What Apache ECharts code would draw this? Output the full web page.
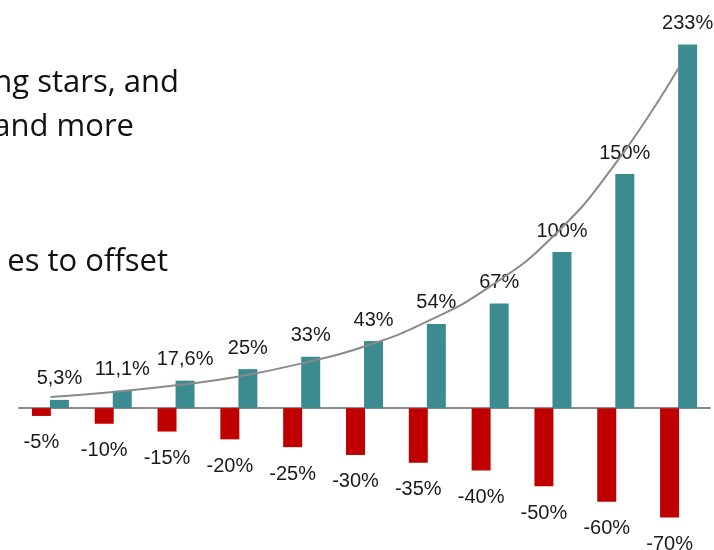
<!DOCTYPE html>
<html>
<head>
<meta charset="utf-8">
<style>
  html, body { margin: 0; padding: 0; background: #ffffff; }
  #chart { width: 714px; height: 550px; }
</style>
<script src="https://cdn.jsdelivr.net/npm/echarts@6/dist/echarts.min.js"></script>
</head>
<body>
<div id="chart"></div>
<script>
// Loss levels (drawdowns) and the gain needed to recover from each
const categories = ['-5%', '-10%', '-15%', '-20%', '-25%', '-30%', '-35%', '-40%', '-50%', '-60%', '-70%'];
const losses = [-5, -10, -15, -20, -25, -30, -35, -40, -50, -60, -70];
const gainsNeeded = [5.3, 11.1, 17.6, 25, 33, 43, 54, 67, 100, 150, 233];
// Exponential trend line over the required gains
const trend = [7.1, 10.4, 14.6, 20.3, 28.7, 39.5, 55.6, 78, 110, 157, 218];

// Fragments of slide text beside the chart (cut off at the left edge)
const sideText = ['ng stars, and', 'and more', 'es to offset'];

const chart = echarts.init(document.getElementById('chart'), null, { renderer: 'canvas' });

const pct = v => String(v).replace('.', ',') + '%';

const labelFont = {
  fontFamily: '"Liberation Sans", Arial, sans-serif',
  fontSize: 20,
  color: '#1a1a1a'
};

const slideFont = '31px "Open Sans", sans-serif';

chart.setOption({
  animation: false,
  backgroundColor: '#ffffff',
  grid: { left: 19, right: 4, top: 18, bottom: 17, containLabel: false },
  xAxis: {
    type: 'category',
    data: categories,
    axisLine: { show: true, onZero: true, lineStyle: { color: '#8a8a8a', width: 2 } },
    axisTick: { show: false },
    axisLabel: { show: false },
    splitLine: { show: false }
  },
  yAxis: {
    type: 'value',
    min: -80,
    max: 250,
    show: false,
    splitLine: { show: false }
  },
  graphic: [
    { type: 'text', right: 714 - 179, top: 68, style: { text: sideText[0], font: slideFont, fill: '#111111', textAlign: 'right' } },
    { type: 'text', right: 714 - 134, top: 112, style: { text: sideText[1], font: slideFont, fill: '#111111', textAlign: 'right' } },
    { type: 'text', right: 714 - 168, top: 247, style: { text: sideText[2], font: slideFont, fill: '#111111', textAlign: 'right' } }
  ],
  series: [
    {
      name: 'Loss',
      type: 'bar',
      data: losses,
      barWidth: 19,
      barGap: '-5%',
      itemStyle: { color: '#c00000' },
      label: {
        show: true,
        position: 'bottom',
        distance: 17,
        formatter: p => pct(p.value),
        ...labelFont
      },
      z: 2
    },
    {
      name: 'Gain needed',
      type: 'bar',
      data: gainsNeeded,
      barWidth: 19,
      itemStyle: { color: '#3c8b90' },
      label: {
        show: true,
        position: 'top',
        distance: 11,
        formatter: p => pct(p.value),
        ...labelFont
      },
      z: 2
    },
    {
      name: 'Trend',
      type: 'line',
      data: trend,
      smooth: true,
      symbol: 'none',
      lineStyle: { color: '#8a8a8a', width: 2 },
      z: 5
    }
  ]
});
</script>
</body>
</html>
